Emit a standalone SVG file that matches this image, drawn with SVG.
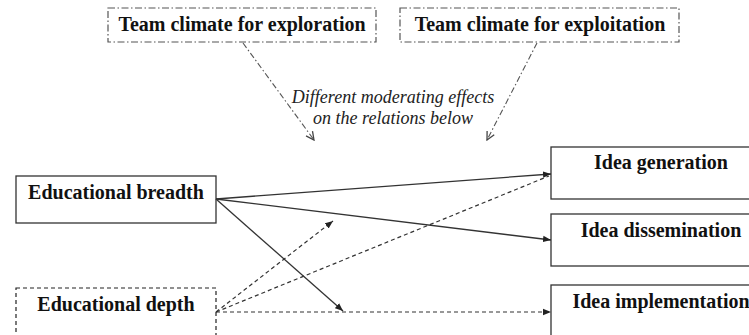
<svg xmlns="http://www.w3.org/2000/svg" width="749" height="335" viewBox="0 0 749 335">
  <style>
    .lbl { font-family: "Liberation Serif", "Times New Roman", serif; font-weight: bold; font-size: 20px; fill: #111; text-anchor: middle; }
    .note { font-family: "Liberation Serif", "Times New Roman", serif; font-style: italic; font-size: 18px; fill: #222; text-anchor: middle; }
    .box { fill: #fff; stroke: #333; stroke-width: 1.3; }
    .box-dash { fill: #fff; stroke: #222; stroke-width: 1.2; stroke-dasharray: 4 3; }
    .box-dashdot { fill: #fff; stroke: #555; stroke-width: 1.2; stroke-dasharray: 7 2.5 1.5 2.5; }
    .solid { fill: none; stroke: #333; stroke-width: 1.3; }
    .dashed { fill: none; stroke: #333; stroke-width: 1.2; stroke-dasharray: 4 3; }
    .dashdot { fill: none; stroke: #555; stroke-width: 1.1; stroke-dasharray: 6 2.5 1.5 2.5; }
  </style>
  <defs>
    <marker id="arrow" viewBox="0 0 10 10" refX="10" refY="5" markerWidth="8" markerHeight="8" markerUnits="userSpaceOnUse" orient="auto">
      <path d="M0,1 L10,5 L0,9 z" fill="#222"/>
    </marker>
    <marker id="arrow-open" viewBox="0 0 10 10" refX="9" refY="5" markerWidth="10" markerHeight="10" markerUnits="userSpaceOnUse" orient="auto">
      <path d="M1,1 L9,5 L1,9" fill="none" stroke="#444" stroke-width="1.3"/>
    </marker>
  </defs>

  <g id="climate-exploration">
    <rect class="box-dashdot" x="108" y="8" width="268" height="34"/>
    <text class="lbl" x="242" y="31">Team climate for exploration</text>
  </g>
  <g id="climate-exploitation">
    <rect class="box-dashdot" x="400" y="8" width="279" height="34"/>
    <text class="lbl" x="540" y="31">Team climate for exploitation</text>
  </g>

  <g id="moderation-note">
    <text class="note" x="393" y="103">Different moderating effects</text>
    <text class="note" x="393" y="124">on the relations below</text>
  </g>

  <g id="educational-breadth">
    <rect class="box" x="16" y="176" width="200" height="47"/>
    <text class="lbl" x="116" y="199">Educational breadth</text>
  </g>
  <g id="educational-depth">
    <rect class="box-dash" x="16" y="288" width="200" height="60"/>
    <text class="lbl" x="116" y="311">Educational depth</text>
  </g>

  <g id="idea-generation">
    <rect class="box" x="551" y="147" width="220" height="52"/>
    <text class="lbl" x="661" y="169">Idea generation</text>
  </g>
  <g id="idea-dissemination">
    <rect class="box" x="551" y="214" width="220" height="52"/>
    <text class="lbl" x="661" y="237">Idea dissemination</text>
  </g>
  <g id="idea-implementation">
    <rect class="box" x="551" y="285" width="220" height="60"/>
    <text class="lbl" x="661" y="308">Idea implementation</text>
  </g>

  <g id="connectors">
    <!-- moderators pointing down at the relations -->
    <path class="dashdot" d="M243,43 L314,140" marker-end="url(#arrow-open)"/>
    <path class="dashdot" d="M537,43 L487,140" marker-end="url(#arrow-open)"/>
    <!-- breadth effects -->
    <path class="solid" d="M216,199 L551,174" marker-end="url(#arrow)"/>
    <path class="solid" d="M216,199 L551,240" marker-end="url(#arrow)"/>
    <path class="solid" d="M216,199 L343,311" marker-end="url(#arrow)"/>
    <!-- depth effects -->
    <path class="dashed" d="M216,312 L551,312" marker-end="url(#arrow)"/>
    <path class="dashed" d="M216,312 L333,221" marker-end="url(#arrow)"/>
    <path class="dashed" d="M216,312 L549,176"/>
  </g>
</svg>
